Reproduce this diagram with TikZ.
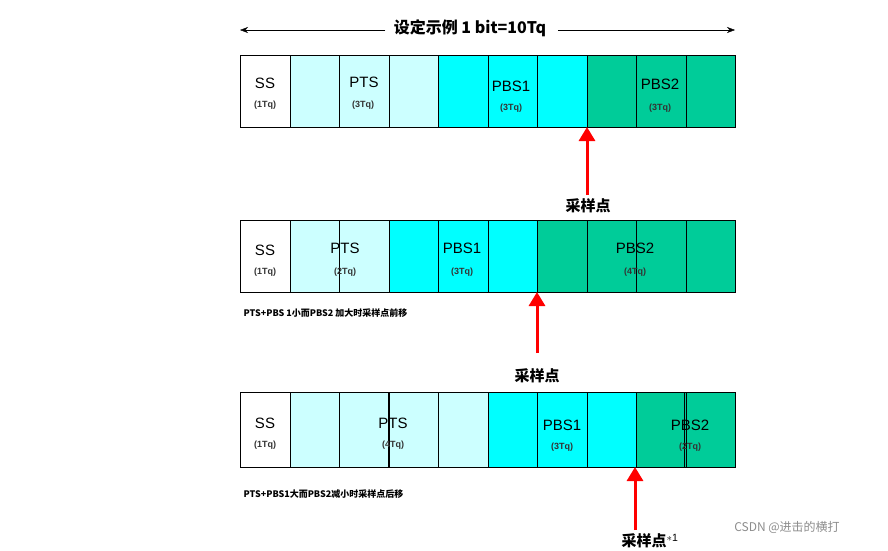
\documentclass[tikz,border=0pt]{standalone}
\usepackage{fontspec}
\setmainfont{Liberation Sans}
\newfontfamily\cjk{Noto Sans CJK SC}
\usetikzlibrary{arrows.meta}
\definecolor{cpts}{HTML}{CCFFFF}
\definecolor{cpbsa}{HTML}{00FFFF}
\definecolor{cpbsb}{HTML}{00CC99}
\begin{document}
\begin{tikzpicture}[x=1pt,y=-1pt,
  cell/.style={draw=black,line width=0.8pt,minimum width=49.5pt,inner sep=0pt,anchor=north west},
  big/.style={font=\fontsize{15}{15}\selectfont},
  small/.style={font=\fontsize{9}{9}\selectfont\bfseries, text=black!80},
  redarr/.style={draw=red,line width=3pt,-{Triangle[length=14pt,width=16pt]}},
  cn/.style={font=\cjk\fontsize{15}{15}\selectfont\bfseries},
  captext/.style={font=\cjk\fontsize{9}{9}\selectfont\bfseries,anchor=west}]
\useasboundingbox (0,0) rectangle (888,550);
\newcommand\myrow[3]{%
  \foreach \c [count=\i from 0] in {#3} {
    \node[cell,fill=\c,minimum height=#2pt] (r#1c\i) at (240+49.5*\i,#1) {};
  }}
\myrow{55}{72}{white,cpts,cpts,cpts,cpbsa,cpbsa,cpbsa,cpbsb,cpbsb,cpbsb}
\myrow{220}{72}{white,cpts,cpts,cpbsa,cpbsa,cpbsa,cpbsb,cpbsb,cpbsb,cpbsb}
\myrow{392}{75}{white,cpts,cpts,cpts,cpts,cpbsa,cpbsa,cpbsa,cpbsb,cpbsb}
\draw[line width=0.8pt] (388,392) -- (388,467) (684,392) -- (684,467);
% top span
\node[font=\cjk\fontsize{16}{16}\selectfont\bfseries] (ttl) at (470,28) {设定示例 1 bit=10Tq};
\coordinate (tl) at (240,30); \coordinate (tr) at (735,30);
\draw[-{Stealth[length=8pt]}] (ttl.west) ++(-5,2) -- (tl);
\draw[-{Stealth[length=8pt]}] (ttl.east) ++(8,2) -- (tr);
% row1 labels
\node[big] at (265,83) {SS}; \node[small] at (265,105) {(1Tq)};
\node[big] at (364,82) {PTS}; \node[small] at (363,105) {(3Tq)};
\node[big] at (511,86) {PBS1}; \node[small] at (511,108) {(3Tq)};
\node[big] at (660,84) {PBS2}; \node[small] at (660,108) {(3Tq)};
% row2
\node[big] at (265,250) {SS}; \node[small] at (265,272) {(1Tq)};
\node[big] at (345,248) {PTS}; \node[small] at (345,272) {(2Tq)};
\node[big] at (462,248) {PBS1}; \node[small] at (462,272) {(3Tq)};
\node[big] at (635,248) {PBS2}; \node[small] at (635,272) {(4Tq)};
% row3
\node[big] at (265,423) {SS}; \node[small] at (265,445) {(1Tq)};
\node[big] at (393,423) {PTS}; \node[small] at (393,445) {(4Tq)};
\node[big] at (562,425) {PBS1}; \node[small] at (562,447) {(3Tq)};
\node[big] at (690,425) {PBS2}; \node[small] at (690,447) {(2Tq)};
% arrows
\coordinate (a1) at (587,195); \coordinate (b1) at (587,127);
\draw[redarr] (a1) -- (b1);
\node[cn] (s1) at (588,206) {采样点};
\coordinate (a2) at (537,353); \coordinate (b2) at (537,292);
\draw[redarr] (a2) -- (b2);
\node[cn] (s2) at (537,376) {采样点};
\coordinate (a3) at (635,530); \coordinate (b3) at (635,467);
\draw[redarr] (a3) -- (b3);
\node[cn] (s3) at (650,541) {采样点$^{\mathrm{*1}}$};
% captions
\node[captext] (c2) at (240,313) {PTS+PBS 1小而PBS2 加大时采样点前移};
\node[captext] (c3) at (240,494) {PTS+PBS1大而PBS2减小时采样点后移};
\node[font=\cjk\fontsize{12}{12}\selectfont,text=black!45] (wm) at (787,527) {CSDN @进击的横打};
\end{tikzpicture}
\end{document}
